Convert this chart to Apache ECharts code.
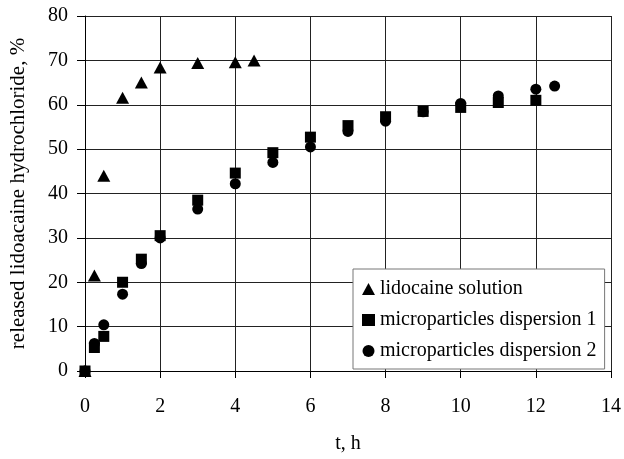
<!DOCTYPE html>
<html>
<head>
<meta charset="utf-8">
<script src="https://cdn.jsdelivr.net/npm/echarts@6/dist/echarts.min.js"></script>
<style>html,body{margin:0;padding:0;background:#fff}#c{width:624px;height:459px}</style>
</head>
<body>
<div id="c"></div>
<script>
var solutionT = [0, 0.25, 0.5, 1, 1.5, 2, 3, 4, 4.5];
var solutionV = [0, 21.5, 44, 61.6, 65, 68.4, 69.4, 69.6, 70];
var disp1T = [0, 0.25, 0.5, 1, 1.5, 2, 3, 4, 5, 6, 7, 8, 9, 10, 11, 12];
var disp1V = [0, 5.3, 7.8, 20, 25.2, 30.5, 38.5, 44.6, 49.2, 52.7, 55.3, 57.3, 58.5, 59.4, 60.5, 61];
var disp2T = [0, 0.25, 0.5, 1, 1.5, 2, 3, 4, 5, 6, 7, 8, 9, 10, 11, 12, 12.5];
var disp2V = [0, 6.2, 10.4, 17.3, 24.2, 30, 36.5, 42.2, 47, 50.5, 54, 56.3, 58.4, 60.3, 62, 63.5, 64.2];
var seriesNames = ['lidocaine solution', 'microparticles dispersion 1', 'microparticles dispersion 2'];

function pairs(t, v) { return t.map(function (x, i) { return [x, v[i]]; }); }

var font = "'Liberation Serif', 'Times New Roman', serif";
var chart = echarts.init(document.getElementById('c'));
chart.setOption({
  animation: false,
  textStyle: { fontFamily: font },
  grid: { left: 85, right: 12, top: 16, bottom: 82 },
  xAxis: {
    type: 'value', min: 0, max: 14, interval: 2,
    name: 't, h', nameLocation: 'middle', nameGap: 63,
    nameTextStyle: { fontFamily: font, fontSize: 20, color: '#000' },
    axisLine: { lineStyle: { color: '#000', width: 1 } },
    axisTick: { show: true, length: 7, lineStyle: { color: '#000' } },
    axisLabel: { fontFamily: font, fontSize: 20, color: '#000', margin: 26 },
    splitLine: { show: true, lineStyle: { color: '#222', width: 1 } }
  },
  yAxis: {
    type: 'value', min: 0, max: 80, interval: 10,
    name: 'released lidoacaine hydrochloride, %', nameLocation: 'middle', nameGap: 56,
    nameTextStyle: { fontFamily: font, fontSize: 21, color: '#000' },
    axisLine: { show: true, lineStyle: { color: '#000', width: 1 } },
    axisTick: { show: true, length: 8, lineStyle: { color: '#000' } },
    axisLabel: { fontFamily: font, fontSize: 20, color: '#000', margin: 17 },
    splitLine: { show: true, lineStyle: { color: '#222', width: 1 } }
  },
  legend: {
    orient: 'vertical', left: 353, top: 269,
    padding: [10, 8, 8, 9], itemGap: 11,
    itemWidth: 13, itemHeight: 12,
    backgroundColor: '#fff', borderColor: '#777', borderWidth: 1,
    textStyle: { fontFamily: font, fontSize: 20, color: '#000' },
    data: seriesNames
  },
  series: [
    { name: seriesNames[0], type: 'scatter', symbol: 'triangle', symbolSize: [13, 12],
      itemStyle: { color: '#000', opacity: 1 }, data: pairs(solutionT, solutionV), z: 3 },
    { name: seriesNames[2], type: 'scatter', symbol: 'circle', symbolSize: 11,
      itemStyle: { color: '#000', opacity: 1 }, data: pairs(disp2T, disp2V), z: 2 },
    { name: seriesNames[1], type: 'scatter', symbol: 'rect', symbolSize: 11,
      itemStyle: { color: '#000', opacity: 1 }, data: pairs(disp1T, disp1V), z: 4 }
  ]
});
</script>
</body>
</html>
